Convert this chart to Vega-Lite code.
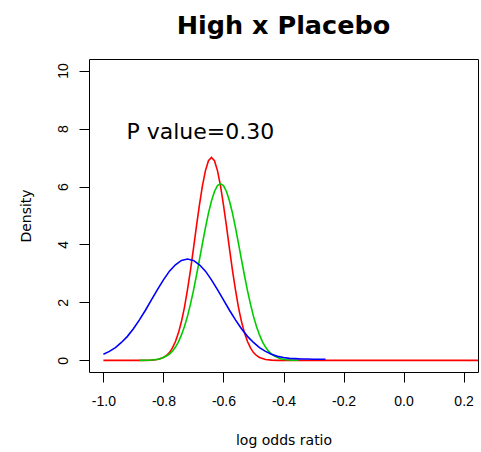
{
  "$schema": "https://vega.github.io/schema/vega-lite/v6.json",
  "width": 389,
  "height": 313,
  "autosize": {"type": "none"},
  "padding": {"left": 89, "top": 59, "right": 3, "bottom": 80},
  "background": "white",
  "config": {
    "view": {"stroke": "black", "strokeWidth": 1},
    "font": "DejaVu Sans"
  },
  "title": {
    "text": "High x Placebo",
    "font": "DejaVu Sans",
    "fontSize": 25.5,
    "fontWeight": "bold",
    "color": "black",
    "anchor": "middle",
    "offset": 20
  },
  "datasets": {
    "curves": [
      {"x": -1.00, "y": 0, "s": "red"},
      {"x": -0.90, "y": 0, "s": "red"},
      {"x": -0.86, "y": 0.002, "s": "red"},
      {"x": -0.84, "y": 0.009, "s": "red"},
      {"x": -0.82, "y": 0.033, "s": "red"},
      {"x": -0.80, "y": 0.10, "s": "red"},
      {"x": -0.79, "y": 0.17, "s": "red"},
      {"x": -0.78, "y": 0.27, "s": "red"},
      {"x": -0.77, "y": 0.43, "s": "red"},
      {"x": -0.76, "y": 0.65, "s": "red"},
      {"x": -0.75, "y": 0.95, "s": "red"},
      {"x": -0.74, "y": 1.34, "s": "red"},
      {"x": -0.73, "y": 1.83, "s": "red"},
      {"x": -0.72, "y": 2.43, "s": "red"},
      {"x": -0.71, "y": 3.11, "s": "red"},
      {"x": -0.70, "y": 3.86, "s": "red"},
      {"x": -0.69, "y": 4.63, "s": "red"},
      {"x": -0.68, "y": 5.37, "s": "red"},
      {"x": -0.67, "y": 6.03, "s": "red"},
      {"x": -0.66, "y": 6.55, "s": "red"},
      {"x": -0.65, "y": 6.89, "s": "red"},
      {"x": -0.64, "y": 7.00, "s": "red"},
      {"x": -0.63, "y": 6.89, "s": "red"},
      {"x": -0.62, "y": 6.55, "s": "red"},
      {"x": -0.61, "y": 6.03, "s": "red"},
      {"x": -0.60, "y": 5.37, "s": "red"},
      {"x": -0.59, "y": 4.63, "s": "red"},
      {"x": -0.58, "y": 3.86, "s": "red"},
      {"x": -0.57, "y": 3.11, "s": "red"},
      {"x": -0.56, "y": 2.43, "s": "red"},
      {"x": -0.55, "y": 1.83, "s": "red"},
      {"x": -0.54, "y": 1.34, "s": "red"},
      {"x": -0.53, "y": 0.95, "s": "red"},
      {"x": -0.52, "y": 0.65, "s": "red"},
      {"x": -0.51, "y": 0.43, "s": "red"},
      {"x": -0.50, "y": 0.27, "s": "red"},
      {"x": -0.49, "y": 0.17, "s": "red"},
      {"x": -0.48, "y": 0.10, "s": "red"},
      {"x": -0.46, "y": 0.033, "s": "red"},
      {"x": -0.44, "y": 0.009, "s": "red"},
      {"x": -0.42, "y": 0.002, "s": "red"},
      {"x": -0.40, "y": 0, "s": "red"},
      {"x": -0.20, "y": 0, "s": "red"},
      {"x": 0.00, "y": 0, "s": "red"},
      {"x": 0.248, "y": 0, "s": "red"},
      {"x": -0.88, "y": 0.001, "s": "green"},
      {"x": -0.86, "y": 0.003, "s": "green"},
      {"x": -0.85, "y": 0.008, "s": "green"},
      {"x": -0.83, "y": 0.024, "s": "green"},
      {"x": -0.81, "y": 0.06, "s": "green"},
      {"x": -0.79, "y": 0.15, "s": "green"},
      {"x": -0.78, "y": 0.22, "s": "green"},
      {"x": -0.77, "y": 0.32, "s": "green"},
      {"x": -0.76, "y": 0.46, "s": "green"},
      {"x": -0.75, "y": 0.64, "s": "green"},
      {"x": -0.74, "y": 0.88, "s": "green"},
      {"x": -0.73, "y": 1.17, "s": "green"},
      {"x": -0.72, "y": 1.52, "s": "green"},
      {"x": -0.71, "y": 1.94, "s": "green"},
      {"x": -0.70, "y": 2.41, "s": "green"},
      {"x": -0.69, "y": 2.93, "s": "green"},
      {"x": -0.68, "y": 3.48, "s": "green"},
      {"x": -0.67, "y": 4.04, "s": "green"},
      {"x": -0.66, "y": 4.58, "s": "green"},
      {"x": -0.65, "y": 5.08, "s": "green"},
      {"x": -0.64, "y": 5.50, "s": "green"},
      {"x": -0.63, "y": 5.83, "s": "green"},
      {"x": -0.62, "y": 6.03, "s": "green"},
      {"x": -0.61, "y": 6.10, "s": "green"},
      {"x": -0.60, "y": 6.03, "s": "green"},
      {"x": -0.59, "y": 5.83, "s": "green"},
      {"x": -0.58, "y": 5.50, "s": "green"},
      {"x": -0.57, "y": 5.08, "s": "green"},
      {"x": -0.56, "y": 4.58, "s": "green"},
      {"x": -0.55, "y": 4.04, "s": "green"},
      {"x": -0.54, "y": 3.48, "s": "green"},
      {"x": -0.53, "y": 2.93, "s": "green"},
      {"x": -0.52, "y": 2.41, "s": "green"},
      {"x": -0.51, "y": 1.94, "s": "green"},
      {"x": -0.50, "y": 1.52, "s": "green"},
      {"x": -0.49, "y": 1.17, "s": "green"},
      {"x": -0.48, "y": 0.88, "s": "green"},
      {"x": -0.47, "y": 0.64, "s": "green"},
      {"x": -0.46, "y": 0.46, "s": "green"},
      {"x": -0.45, "y": 0.32, "s": "green"},
      {"x": -0.44, "y": 0.22, "s": "green"},
      {"x": -0.43, "y": 0.15, "s": "green"},
      {"x": -0.41, "y": 0.06, "s": "green"},
      {"x": -0.39, "y": 0.024, "s": "green"},
      {"x": -0.37, "y": 0.008, "s": "green"},
      {"x": -0.35, "y": 0.003, "s": "green"},
      {"x": -1.00, "y": 0.21, "s": "blue"},
      {"x": -0.98, "y": 0.31, "s": "blue"},
      {"x": -0.96, "y": 0.44, "s": "blue"},
      {"x": -0.94, "y": 0.62, "s": "blue"},
      {"x": -0.92, "y": 0.83, "s": "blue"},
      {"x": -0.90, "y": 1.09, "s": "blue"},
      {"x": -0.88, "y": 1.40, "s": "blue"},
      {"x": -0.86, "y": 1.73, "s": "blue"},
      {"x": -0.84, "y": 2.09, "s": "blue"},
      {"x": -0.82, "y": 2.44, "s": "blue"},
      {"x": -0.80, "y": 2.78, "s": "blue"},
      {"x": -0.78, "y": 3.08, "s": "blue"},
      {"x": -0.76, "y": 3.30, "s": "blue"},
      {"x": -0.74, "y": 3.45, "s": "blue"},
      {"x": -0.72, "y": 3.50, "s": "blue"},
      {"x": -0.70, "y": 3.45, "s": "blue"},
      {"x": -0.68, "y": 3.30, "s": "blue"},
      {"x": -0.66, "y": 3.08, "s": "blue"},
      {"x": -0.64, "y": 2.78, "s": "blue"},
      {"x": -0.62, "y": 2.44, "s": "blue"},
      {"x": -0.60, "y": 2.09, "s": "blue"},
      {"x": -0.58, "y": 1.73, "s": "blue"},
      {"x": -0.56, "y": 1.40, "s": "blue"},
      {"x": -0.54, "y": 1.09, "s": "blue"},
      {"x": -0.52, "y": 0.83, "s": "blue"},
      {"x": -0.50, "y": 0.62, "s": "blue"},
      {"x": -0.48, "y": 0.44, "s": "blue"},
      {"x": -0.46, "y": 0.31, "s": "blue"},
      {"x": -0.44, "y": 0.21, "s": "blue"},
      {"x": -0.42, "y": 0.14, "s": "blue"},
      {"x": -0.40, "y": 0.10, "s": "blue"},
      {"x": -0.38, "y": 0.07, "s": "blue"},
      {"x": -0.36, "y": 0.06, "s": "blue"},
      {"x": -0.34, "y": 0.05, "s": "blue"},
      {"x": -0.32, "y": 0.05, "s": "blue"},
      {"x": -0.30, "y": 0.04, "s": "blue"},
      {"x": -0.28, "y": 0.04, "s": "blue"},
      {"x": -0.26, "y": 0.04, "s": "blue"}
    ],
    "note": [
      {"x": -0.677, "y": 7.64, "label": "P value=0.30"}
    ]
  },
  "encoding": {
    "x": {
      "field": "x",
      "type": "quantitative",
      "scale": {"domain": [-1.048, 0.248], "nice": false, "zero": false},
      "axis": {
        "title": "log odds ratio",
        "values": [-1.0, -0.8, -0.6, -0.4, -0.2, 0, 0.2],
        "labelExpr": "(datum.value < 0 ? '-' : '') + format(abs(datum.value), '.1f')",
        "grid": false,
        "domain": false,
        "tickColor": "black",
        "tickSize": 10,
        "labelPadding": 12,
        "labelFont": "Liberation Sans",
        "labelFontSize": 14,
        "labelColor": "black",
        "titleFont": "DejaVu Sans",
        "titleFontSize": 14,
        "titleFontWeight": "normal",
        "titleColor": "black",
        "titlePadding": 25
      }
    },
    "y": {
      "field": "y",
      "type": "quantitative",
      "scale": {"domain": [-0.4, 10.4], "nice": false, "zero": false},
      "axis": {
        "title": "Density",
        "values": [0, 2, 4, 6, 8, 10],
        "format": "d",
        "labelAngle": -90,
        "grid": false,
        "domain": false,
        "tickColor": "black",
        "tickSize": 10,
        "labelPadding": 9,
        "labelFont": "Liberation Sans",
        "labelFontSize": 14,
        "labelColor": "black",
        "titleFont": "DejaVu Sans",
        "titleFontSize": 14,
        "titleFontWeight": "normal",
        "titleColor": "black",
        "titlePadding": 23
      }
    }
  },
  "layer": [
    {
      "data": {"name": "curves"},
      "transform": [{"filter": "datum.s === 'red'"}],
      "mark": {"type": "line", "color": "#FF0000", "strokeWidth": 1.6, "clip": true},
      "encoding": {}
    },
    {
      "data": {"name": "curves"},
      "transform": [{"filter": "datum.s === 'green'"}],
      "mark": {"type": "line", "color": "#00CD00", "strokeWidth": 1.6, "clip": true},
      "encoding": {}
    },
    {
      "data": {"name": "curves"},
      "transform": [{"filter": "datum.s === 'blue'"}],
      "mark": {"type": "line", "color": "#0000FF", "strokeWidth": 1.6, "clip": true},
      "encoding": {}
    },
    {
      "data": {"name": "note"},
      "mark": {"type": "text", "font": "DejaVu Sans", "fontSize": 22, "color": "black", "align": "center", "baseline": "alphabetic"},
      "encoding": {"text": {"field": "label"}}
    }
  ]
}
